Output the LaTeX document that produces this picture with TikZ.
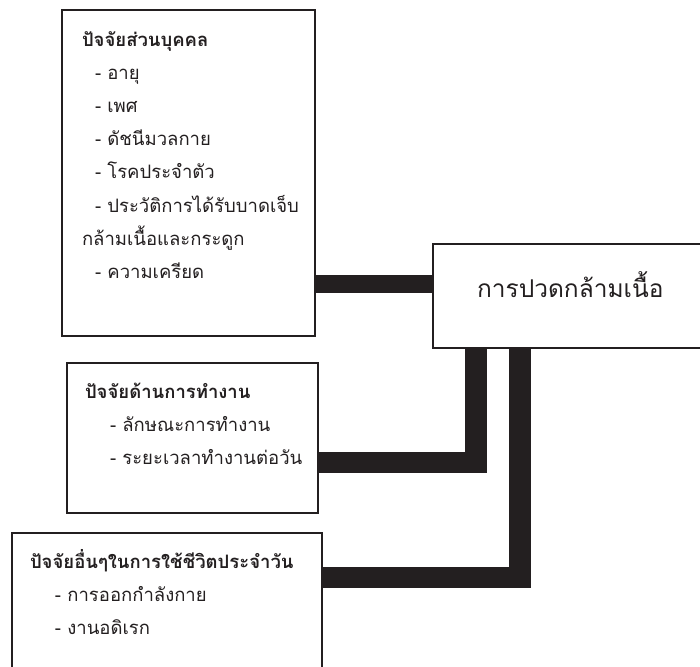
\documentclass[tikz,border=0pt]{standalone}
\usepackage{fontspec}
\newfontfamily\thai[Script=Thai]{Loma}
\definecolor{ink}{HTML}{231F20}
\newcommand\tline[2]{\hspace*{#1pt}{#2}}
\begin{document}
\begin{tikzpicture}[x=1pt,y=-1pt,
  box/.style={draw=ink,line width=1.5pt,fill=white,inner sep=0pt,outer sep=0pt,anchor=north west,text=ink,
    font=\thai\fontsize{18.5}{33}\selectfont},
  bar/.style={draw=ink,line join=miter,line cap=butt}]
\useasboundingbox (0,0) rectangle (700,666);
\clip (0,0) rectangle (700,666);
% boxes with their texts
\node[box] (box1) at (62,10) {\begin{minipage}[t][326pt][t]{253pt}\raggedright
\tline{20}{\rule{0pt}{37pt}\bfseries ปัจจัยส่วนบุคคล}\\
\tline{33}{- อายุ}\\
\tline{33}{- เพศ}\\
\tline{33}{- ดัชนีมวลกาย}\\
\tline{33}{- โรคประจำตัว}\\
\tline{33}{- ประวัติการได้รับบาดเจ็บ}\\
\tline{20}{กล้ามเนื้อและกระดูก}\\
\tline{33}{- ความเครียด}
\end{minipage}};
\node[box,font=\thai\fontsize{24.5}{30}\selectfont] (main) at (433,244) {\begin{minipage}[t][104pt][t]{287pt}\raggedright
\tline{44}{\rule{0pt}{53pt}การปวดกล้ามเนื้อ}
\end{minipage}};
\node[box] (box2) at (67,363) {\begin{minipage}[t][150pt][t]{251pt}\raggedright
\tline{18}{\rule{0pt}{35pt}\bfseries ปัจจัยด้านการทำงาน}\\
\tline{43}{- ลักษณะการทำงาน}\\
\tline{43}{- ระยะเวลาทำงานต่อวัน}
\end{minipage}};
\node[box] (box3) at (12,533) {\begin{minipage}[t][170pt][t]{310pt}\raggedright
\tline{18}{\rule{0pt}{35pt}\bfseries ปัจจัยอื่นๆในการใช้ชีวิตประจำวัน}\\
\tline{43}{- การออกกำลังกาย}\\
\tline{43}{- งานอดิเรก}
\end{minipage}};
% connectors
\coordinate (y1) at (0,284);
\draw[bar,line width=18pt] (box1.east |- y1) -- (main.west |- y1);
\coordinate (x2) at (476,0);
\coordinate (y2) at (0,462.5);
\draw[bar,line width=21.5pt] (main.south -| x2) |- (box2.east |- y2);
\coordinate (x3) at (520,0);
\coordinate (y3) at (0,577.5);
\draw[bar,line width=21.5pt] (main.south -| x3) |- (box3.east |- y3);
\end{tikzpicture}
\end{document}
